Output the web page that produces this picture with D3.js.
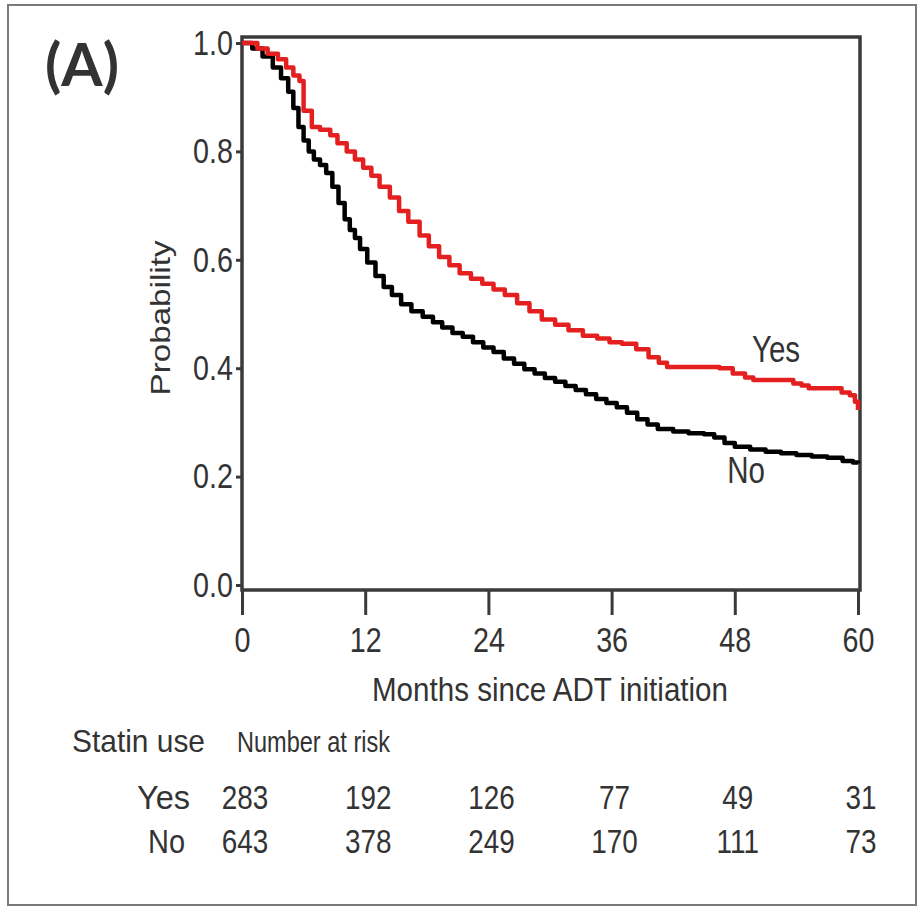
<!DOCTYPE html>
<html>
<head>
<meta charset="utf-8">
<script src="https://cdn.jsdelivr.net/npm/d3@7"></script>
<style>
  body { margin: 0; background: #fff; }
  svg text { font-family: "Liberation Sans", Arial, sans-serif; fill: #333; }
</style>
</head>
<body>
<svg id="km"></svg>
<script>
// survival estimates, statin use = Yes (months, probability)
var yesMonths = [0, 1.5, 2.5, 3.5, 4.3, 5.0, 5.6, 6.0, 6.8, 7.6, 8.6, 9.3, 10.2, 11.0, 11.8, 12.6, 13.4, 14.4, 15.3, 16.2,
    17.3, 18.2, 19.2, 20.2, 21.2, 22.3, 23.4, 24.5, 25.6, 26.8, 28.0, 29.2, 30.5, 31.8, 33.2, 34.6, 35.8, 37.0, 38.4,
    39.6, 40.6, 41.4, 44.0, 46.5, 47.8, 49.0, 49.8, 52.0, 53.7, 54.5, 55.2, 57.5, 58.4, 59.2, 59.7, 60];
var yesProb = [1.0, 0.99, 0.98, 0.97, 0.955, 0.94, 0.93, 0.875, 0.845, 0.84, 0.83, 0.815, 0.80, 0.785, 0.77, 0.755,
    0.735, 0.715, 0.69, 0.67, 0.645, 0.625, 0.605, 0.59, 0.575, 0.565, 0.556, 0.545, 0.535, 0.52, 0.505, 0.49, 0.48,
    0.47, 0.46, 0.455, 0.448, 0.445, 0.435, 0.42, 0.41, 0.402, 0.402, 0.40, 0.39, 0.383, 0.378, 0.378, 0.372, 0.368,
    0.363, 0.363, 0.355, 0.35, 0.338, 0.323];

// survival estimates, statin use = No
var noMonths = [0, 1.0, 2.0, 3.0, 3.8, 4.5, 5.0, 5.5, 6.0, 6.5, 7.0, 7.6, 8.2, 8.8, 9.4, 10.0, 10.5, 11.0, 11.5, 12.2,
    13.0, 13.8, 14.6, 15.5, 16.5, 17.6, 18.6, 19.5, 20.5, 21.5, 22.5, 23.5, 24.5, 25.5, 26.5, 27.5, 28.5, 29.5, 30.5,
    31.5, 32.5, 33.5, 34.5, 35.5, 36.5, 37.5, 38.5, 39.5, 40.5, 42.0, 43.5, 45.0, 46.0, 47.0, 48.0, 49.5, 51.0, 52.5,
    54.0, 55.5, 57.0, 58.5, 59.5, 60];
var noProb = [1.0, 0.99, 0.975, 0.955, 0.935, 0.91, 0.88, 0.845, 0.82, 0.80, 0.785, 0.775, 0.76, 0.735, 0.705, 0.675,
    0.655, 0.64, 0.62, 0.595, 0.57, 0.55, 0.535, 0.518, 0.505, 0.495, 0.485, 0.475, 0.465, 0.458, 0.448, 0.438, 0.43,
    0.418, 0.408, 0.398, 0.39, 0.382, 0.375, 0.367, 0.36, 0.352, 0.343, 0.336, 0.328, 0.318, 0.306, 0.296, 0.288,
    0.283, 0.28, 0.278, 0.272, 0.262, 0.255, 0.25, 0.246, 0.243, 0.240, 0.237, 0.235, 0.229, 0.226, 0.224];

// axes
var xTicks = [0, 12, 24, 36, 48, 60];
var yTicks = [0, 0.2, 0.4, 0.6, 0.8, 1.0];

// number at risk table
var riskGroups = ["Yes", "No"];
var riskYes = [283, 192, 126, 77, 49, 31];
var riskNo = [643, 378, 249, 170, 111, 73];

var svg = d3.select("#km")
    .attr("width", 923)
    .attr("height", 909);

// cadre extérieur
svg.append("rect")
    .attr("x", 8).attr("y", 5)
    .attr("width", 908).attr("height", 900)
    .attr("fill", "#fff")
    .attr("stroke", "#7a7a7a")
    .attr("stroke-width", 2);

var x = d3.scaleLinear().domain([0, 60]).range([242, 858]);
var y = d3.scaleLinear().domain([0, 1]).range([585, 43]);

// boîte du graphe
svg.append("rect")
    .attr("x", 242).attr("y", 37)
    .attr("width", 618).attr("height", 553)
    .attr("fill", "none")
    .attr("stroke", "#3a3a3a")
    .attr("stroke-width", 3.5);

var xAxis = svg.append("g")
    .attr("transform", "translate(0,590)")
    .call(d3.axisBottom(x).tickValues(xTicks).tickSize(25).tickSizeOuter(0).tickPadding(12));
xAxis.select(".domain").remove();
xAxis.selectAll("line").attr("stroke", "#3a3a3a").attr("stroke-width", 3);
xAxis.selectAll("text").attr("class", "narrow").style("font-size", "35px").attr("fill", "#333");

var yAxis = svg.append("g")
    .attr("transform", "translate(242,0)")
    .call(d3.axisLeft(y).tickValues(yTicks).tickSize(6).tickPadding(3).tickFormat(d3.format(".1f")));
yAxis.select(".domain").remove();
yAxis.selectAll("line").attr("stroke", "#3a3a3a").attr("stroke-width", 3);
yAxis.selectAll("text").attr("class", "narrow").style("font-size", "35px").attr("fill", "#333");

// courbes de survie
var line = d3.line()
    .x(function(d) { return x(d[0]); })
    .y(function(d) { return y(d[1]); })
    .curve(d3.curveStepAfter);

var curves = [
    { key: "No", color: "#000", pts: d3.zip(noMonths, noProb) },
    { key: "Yes", color: "#e3201f", pts: d3.zip(yesMonths, yesProb) }
];

svg.selectAll(".curve")
    .data(curves)
    .enter().append("path")
    .attr("class", "curve")
    .attr("d", function(d) { return line(d.pts); })
    .attr("fill", "none")
    .attr("stroke", function(d) { return d.color; })
    .attr("stroke-width", 4.5)
    .attr("stroke-linejoin", "round");

// étiquettes des courbes
svg.append("text").attr("class", "narrow").attr("x", 776).attr("y", 362).attr("text-anchor", "middle")
    .style("font-size", "36px").text("Yes");
svg.append("text").attr("class", "narrow").attr("x", 746).attr("y", 483).attr("text-anchor", "middle")
    .style("font-size", "36px").text("No");

// titres
svg.append("text")
    .attr("x", 45).attr("y", 86)
    .attr("textLength", 74).attr("lengthAdjust", "spacingAndGlyphs")
    .style("font-family", "Lato, 'Open Sans', sans-serif")
    .style("font-weight", "bold")
    .style("font-size", "60px")
    .attr("fill", "#111a33")
    .text("(A)");

svg.append("text")
    .attr("transform", "translate(170,318) rotate(-90)")
    .attr("text-anchor", "middle")
    .attr("textLength", 155).attr("lengthAdjust", "spacingAndGlyphs")
    .style("font-size", "28px")
    .text("Probability");

svg.append("text")
    .attr("x", 372).attr("y", 701)
    .attr("textLength", 356).attr("lengthAdjust", "spacingAndGlyphs")
    .style("font-size", "33px")
    .text("Months since ADT initiation");

svg.append("text")
    .attr("x", 72).attr("y", 752)
    .attr("textLength", 133).attr("lengthAdjust", "spacingAndGlyphs")
    .style("font-size", "32px")
    .text("Statin use");

svg.append("text")
    .attr("x", 237).attr("y", 752)
    .attr("textLength", 153).attr("lengthAdjust", "spacingAndGlyphs")
    .style("font-size", "30px")
    .text("Number at risk");

// tableau des effectifs à risque
var riskRows = [riskYes, riskNo];
var rowEnd = [190, 185];
var rowWidth = [53, 37];
riskRows.forEach(function(row, i) {
    var yy = 809 + i * 44;
    svg.append("text")
        .attr("x", rowEnd[i]).attr("y", yy)
        .attr("text-anchor", "end")
        .attr("textLength", rowWidth[i]).attr("lengthAdjust", "spacingAndGlyphs")
        .style("font-size", "34px")
        .text(riskGroups[i]);
    svg.selectAll(".risk" + i)
        .data(row)
        .enter().append("text")
        .attr("class", "narrow risk" + i)
        .attr("x", function(d, j) { return x(xTicks[j]) + 3; })
        .attr("y", yy)
        .attr("text-anchor", "middle")
        .style("font-size", "34px")
        .text(function(d) { return d; });
});

// police étroite : on resserre les textes
svg.selectAll("text.narrow").each(function() {
    var w = this.getComputedTextLength();
    d3.select(this)
        .attr("textLength", (w * 0.82).toFixed(1))
        .attr("lengthAdjust", "spacingAndGlyphs");
});
</script>
</body>
</html>
